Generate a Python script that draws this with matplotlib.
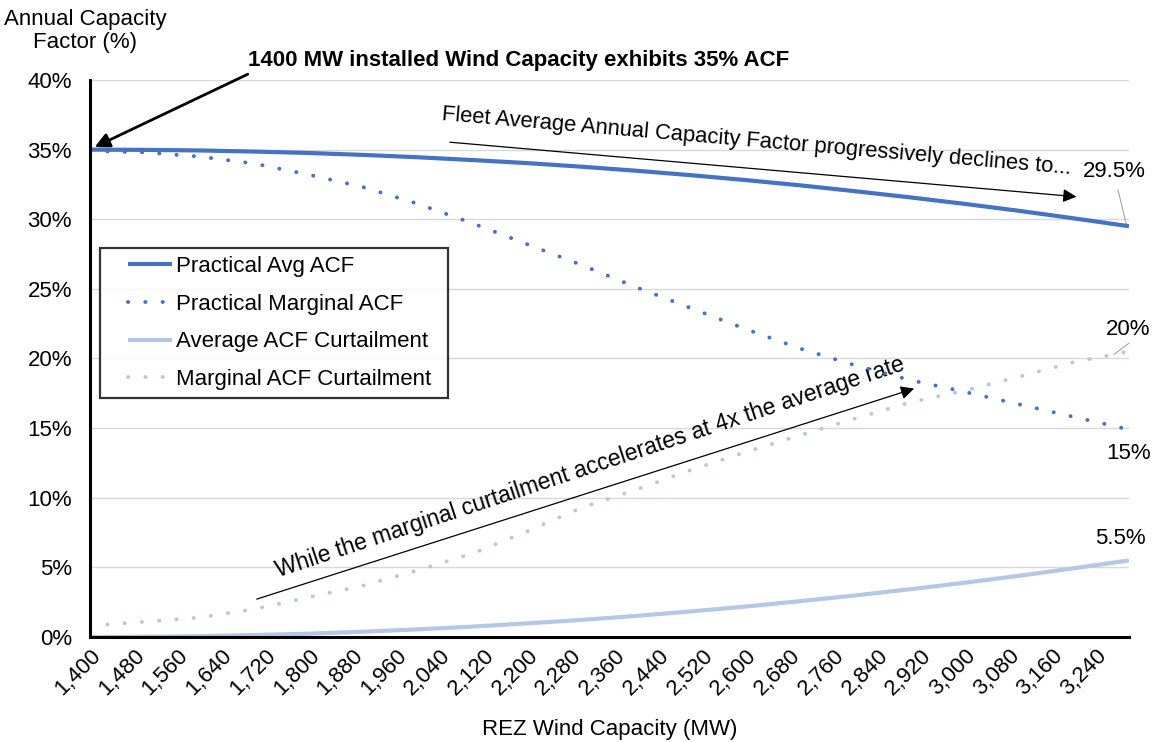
import matplotlib
matplotlib.use("Agg")
import matplotlib.pyplot as plt
from matplotlib.lines import Line2D
from matplotlib.legend_handler import HandlerLine2D
from matplotlib.ticker import FuncFormatter, FixedLocator

plt.rcParams["font.family"] = ["Liberation Sans", "DejaVu Sans"]

# REZ wind capacity (MW)
capacity = [1400, 1500, 1600, 1700, 1800, 1900, 2000, 2100, 2200, 2300,
            2400, 2500, 2600, 2700, 2800, 2900, 3000, 3100, 3200, 3300]

# annual capacity factors (%)
practical_avg = [35.0, 34.98, 34.94, 34.86, 34.76, 34.62, 34.45, 34.25, 34.03, 33.77,
                 33.48, 33.16, 32.81, 32.43, 32.01, 31.57, 31.10, 30.60, 30.06, 29.5]
practical_marginal = [34.9, 34.8, 34.5, 34.0, 33.2, 32.3, 31.1, 29.7, 28.2, 26.7,
                      25.1, 23.6, 22.1, 20.7, 19.5, 18.45, 17.6, 16.7, 15.8, 14.9]
avg_curtailment = [0.0, 0.02, 0.06, 0.14, 0.24, 0.38, 0.55, 0.75, 0.98, 1.23,
                   1.52, 1.84, 2.19, 2.58, 2.99, 3.43, 3.90, 4.40, 4.94, 5.5]
marginal_curtailment = [0.8, 1.1, 1.4, 2.0, 2.85, 3.7, 4.8, 6.0, 7.6, 9.3,
                        10.6, 12.0, 13.3, 14.5, 15.7, 16.85, 17.7, 18.7, 19.75, 20.5]

tick_mw = list(range(1400, 3241, 80))
y_ticks = [0, 5, 10, 15, 20, 25, 30, 35, 40]

dark = "#4472C4"
light = "#B4C7E7"
fs = 16

fig = plt.figure(figsize=(11.56, 7.42), dpi=100)
ax = fig.add_axes([0.0779, 0.1415, 0.8987, 0.7507])

dots = (0, (0.05, 4.4))
ax.plot(capacity, practical_avg, color=dark, lw=3, solid_capstyle="butt", label="Practical Avg ACF", zorder=4)
ax.plot(capacity, practical_marginal, color=dark, lw=2.8, linestyle=dots, dash_capstyle="round",
        label="Practical Marginal ACF", zorder=4)
ax.plot(capacity, avg_curtailment, color=light, lw=3, solid_capstyle="butt", label="Average ACF Curtailment", zorder=4)
ax.plot(capacity, marginal_curtailment, color=light, lw=2.8, linestyle=dots, dash_capstyle="round",
        label="Marginal ACF Curtailment", zorder=4)

ax.set_xlim(1400, 3300)
ax.set_ylim(0, 40)
ax.xaxis.set_major_locator(FixedLocator(tick_mw))
ax.xaxis.set_major_formatter(FuncFormatter(lambda v, p: f"{int(v):,}"))
ax.set_yticks(y_ticks)
ax.yaxis.set_major_formatter(FuncFormatter(lambda v, p: f"{int(v)}%"))
ax.tick_params(axis="both", length=0, labelsize=fs, colors="black")
ax.tick_params(axis="y", pad=13)
ax.tick_params(axis="x", pad=6)
for lbl in ax.get_xticklabels():
    lbl.set_rotation(45)
    lbl.set_ha("right")
    lbl.set_va("top")
    lbl.set_rotation_mode("anchor")

ax.grid(True, axis="y", color="#D9D9D9", lw=1)
ax.set_axisbelow(True)
for side in ["top", "right"]:
    ax.spines[side].set_visible(False)
ax.spines["left"].set_linewidth(2.2)
ax.spines["bottom"].set_linewidth(2.2)
ax.spines["left"].set_zorder(5)
ax.spines["bottom"].set_zorder(5)

ax.set_xlabel("REZ Wind Capacity (MW)", fontsize=fs, labelpad=14)
fig.text(0.0735, 0.958, "Annual Capacity\nFactor (%)", ha="center", va="center", fontsize=fs, linespacing=1.15)

leg = ax.legend(loc="upper left", bbox_to_anchor=(0.0096, 0.429, 0.335, 0.269), mode="expand",
                borderaxespad=0, fontsize=fs, frameon=True, fancybox=False,
                handlelength=2.9, handletextpad=0.15, labelspacing=0.75, borderpad=0.35,
                handler_map={Line2D: HandlerLine2D(xpad=0.9)})
leg.get_frame().set_edgecolor("black")
leg.get_frame().set_linewidth(1.6)

# annotations
ax.annotate("", xy=(1404, 35.1), xytext=(1693, 40.5), annotation_clip=False,
            arrowprops=dict(arrowstyle="-|>", color="black", lw=2, mutation_scale=22))
ax.text(1689, 41.4, "1400 MW installed Wind Capacity exhibits 35% ACF", fontsize=fs, fontweight="bold",
        ha="left", va="center", clip_on=False)

ax.annotate("", xy=(3209, 31.6), xytext=(2053, 35.55),
            arrowprops=dict(arrowstyle="-|>", color="black", lw=0.9, mutation_scale=20))
ax.text(2042, 37.13, "Fleet Average Annual Capacity Factor progressively declines to...", fontsize=15.8,
        rotation=-4.9, rotation_mode="anchor", ha="left", va="baseline")

ax.annotate("", xy=(2912, 17.9), xytext=(1700, 2.66),
            arrowprops=dict(arrowstyle="-|>", color="black", lw=0.9, mutation_scale=20))
ax.text(1744, 4.31, "While the marginal curtailment accelerates at 4x the average rate", fontsize=16.5,
        rotation=18.3, rotation_mode="anchor", ha="left", va="baseline")

# data labels
ax.text(3274, 33.4, "29.5%", fontsize=fs, ha="center", va="center", clip_on=False)
ax.plot([3280, 3296], [32.1, 29.5], color="#A6A6A6", lw=0.8, clip_on=False)
ax.text(3298, 22.1, "20%", fontsize=fs, ha="center", va="center", clip_on=False)
ax.plot([3300, 3273], [21.1, 20.3], color="#A6A6A6", lw=0.8, clip_on=False)
ax.text(3300, 13.2, "15%", fontsize=fs, ha="center", va="center", clip_on=False)
ax.text(3285, 7.04, "5.5%", fontsize=fs, ha="center", va="center", clip_on=False)

fig.savefig("out.png", dpi=100)
